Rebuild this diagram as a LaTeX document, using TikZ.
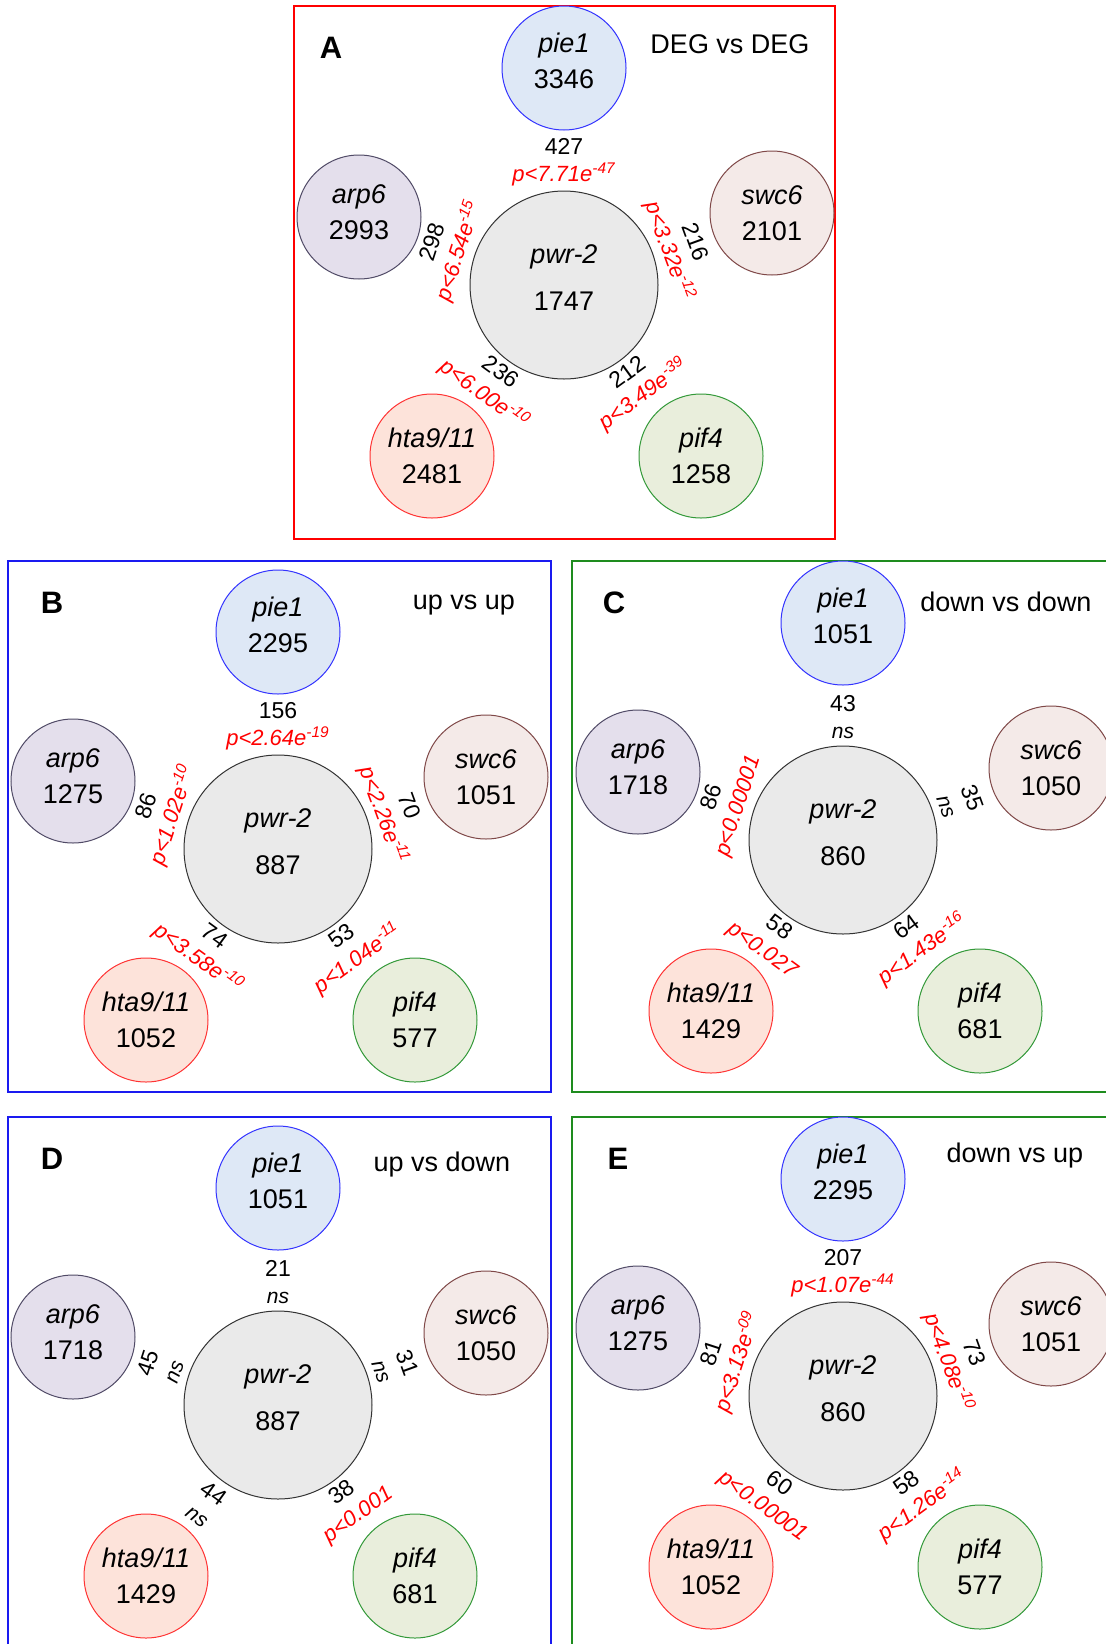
\documentclass[tikz,border=0pt]{standalone}
\usepackage{fontspec}
\setmainfont{Liberation Sans}
\usepackage{xcolor}
\definecolor{piefill}{HTML}{DEE8F6}
\definecolor{pieline}{HTML}{3333FF}
\definecolor{arpfill}{HTML}{E4DFEC}
\definecolor{arpline}{HTML}{504A66}
\definecolor{swcfill}{HTML}{F4EAE8}
\definecolor{swcline}{HTML}{7F4848}
\definecolor{htafill}{HTML}{FDE3DA}
\definecolor{htaline}{HTML}{FF3333}
\definecolor{piffill}{HTML}{E9EEDC}
\definecolor{pifline}{HTML}{339939}
\definecolor{pwrfill}{HTML}{EAEAEA}
\definecolor{pwrline}{HTML}{333333}
\definecolor{boxgreen}{HTML}{1E8C1E}
\definecolor{boxblue}{HTML}{1A1AF0}
\newcommand{\pv}[2]{{\color{red}\fontsize{11}{13.5}\selectfont\textit{p<#1e\textsuperscript{#2}}}}
\newcommand{\pn}[1]{{\color{red}\fontsize{11}{13.5}\selectfont\textit{p<#1}}}
\newcommand{\nsv}{{\fontsize{10.5}{13.5}\selectfont\textit{ns}}}

\begin{document}
\begin{tikzpicture}[x=0.5pt,y=0.5pt]
\tikzstyle{every node}+=[inner sep=0pt]
\tikzstyle{gene}=[circle,minimum size=62pt,line width=0.5pt,align=center,font=\fontsize{13.5}{18}\selectfont]
\tikzstyle{pie}=[gene,draw=pieline,fill=piefill,text depth=7pt]
\tikzstyle{arp}=[gene,draw=arpline,fill=arpfill,text depth=5pt]
\tikzstyle{swc}=[gene,draw=swcline,fill=swcfill]
\tikzstyle{hta}=[gene,draw=htaline,fill=htafill]
\tikzstyle{pif}=[gene,draw=pifline,fill=piffill]
\tikzstyle{hub}=[circle,minimum size=94pt,draw=pwrline,fill=pwrfill,line width=0.5pt,align=center,text depth=7pt,font=\fontsize{13.5}{23.5}\selectfont]
\tikzstyle{ovl}=[align=center,font=\fontsize{11.5}{13.5}\selectfont]
\tikzstyle{panel}=[line width=1.2pt]
\tikzstyle{letter}=[font=\fontsize{15.5}{15.5}\selectfont\bfseries]
\tikzstyle{cmp}=[font=\fontsize{13.5}{16}\selectfont]
\useasboundingbox (0,0) rectangle (1106,-1644);
\clip (0,0) rectangle (1106,-1644);

% A: DEG vs DEG
\draw [panel,draw=red] (294,-6) rectangle (835,-539);
\begin{scope}[shift={(564,-285)}]
\node [hub] (pwrA) at (0,0) {\textit{pwr-2}\\1747};
\node [pie] (pieA) at (0,217) {\textit{pie1}\\3346};
\node [arp] (arpA) at (-205,68) {\textit{arp6}\\2993};
\node [swc] (swcA) at (208,72) {\textit{swc6}\\2101};
\node [hta] (htaA) at (-132,-171) {\textit{hta9/11}\\2481};
\node [pif] (pifA) at (137,-171) {\textit{pif4}\\1258};
\node [ovl] (oPieA) at (90:123) {427\\\pv{7.71}{-47}};
\node [ovl,rotate=72] (oArpA) at (162:123) {298\\\pv{6.54}{-15}};
\node [ovl,rotate=-70] (oSwcA) at (18:123) {216\\\pv{3.32}{-12}};
\node [ovl,rotate=-36] (oHtaA) at (234:123) {236\\\pv{6.00}{-10}};
\node [ovl,rotate=36] (oPifA) at (306:123) {212\\\pv{3.49}{-39}};
\end{scope}
\node [letter] (labA) at (331,-48) {A};
\node [cmp] (cmpA) at (730,-44) {DEG vs DEG};

% B: up vs up
\draw [panel,draw=boxblue] (8,-561) rectangle (551,-1092);
\begin{scope}[shift={(278,-849)}]
\node [hub] (pwrB) at (0,0) {\textit{pwr-2}\\887};
\node [pie] (pieB) at (0,217) {\textit{pie1}\\2295};
\node [arp] (arpB) at (-205,68) {\textit{arp6}\\1275};
\node [swc] (swcB) at (208,72) {\textit{swc6}\\1051};
\node [hta] (htaB) at (-132,-171) {\textit{hta9/11}\\1052};
\node [pif] (pifB) at (137,-171) {\textit{pif4}\\577};
\node [ovl] (oPieB) at (90:123) {156\\\pv{2.64}{-19}};
\node [ovl,rotate=72] (oArpB) at (162:123) {86\\\pv{1.02}{-10}};
\node [ovl,rotate=-70] (oSwcB) at (18:123) {70\\\pv{2.26}{-11}};
\node [ovl,rotate=-36] (oHtaB) at (234:123) {74\\\pv{3.58}{-10}};
\node [ovl,rotate=36] (oPifB) at (306:123) {53\\\pv{1.04}{-11}};
\end{scope}
\node [letter] (labB) at (52,-603) {B};
\node [cmp] (cmpB) at (464,-605) {up vs up};

% C: down vs down
\draw [panel,draw=boxgreen] (572,-561) rectangle (1115,-1092);
\begin{scope}[shift={(843,-840)}]
\node [hub] (pwrC) at (0,0) {\textit{pwr-2}\\860};
\node [pie] (pieC) at (0,217) {\textit{pie1}\\1051};
\node [arp] (arpC) at (-205,68) {\textit{arp6}\\1718};
\node [swc] (swcC) at (208,72) {\textit{swc6}\\1050};
\node [hta] (htaC) at (-132,-171) {\textit{hta9/11}\\1429};
\node [pif] (pifC) at (137,-171) {\textit{pif4}\\681};
\node [ovl] (oPieC) at (90:123) {43\\\nsv};
\node [ovl,rotate=72] (oArpC) at (162:123) {86\\\pn{0.00001}};
\node [ovl,rotate=-70] (oSwcC) at (18:123) {35\\\nsv};
\node [ovl,rotate=-36] (oHtaC) at (234:123) {58\\\pn{0.027}};
\node [ovl,rotate=36] (oPifC) at (306:123) {64\\\pv{1.43}{-16}};
\end{scope}
\node [letter] (labC) at (614,-603) {C};
\node [cmp] (cmpC) at (1006,-602) {down vs down};

% D: up vs down
\draw [panel,draw=boxblue] (8,-1117) rectangle (551,-1660);
\begin{scope}[shift={(278,-1405)}]
\node [hub] (pwrD) at (0,0) {\textit{pwr-2}\\887};
\node [pie] (pieD) at (0,217) {\textit{pie1}\\1051};
\node [arp] (arpD) at (-205,68) {\textit{arp6}\\1718};
\node [swc] (swcD) at (208,72) {\textit{swc6}\\1050};
\node [hta] (htaD) at (-132,-171) {\textit{hta9/11}\\1429};
\node [pif] (pifD) at (137,-171) {\textit{pif4}\\681};
\node [ovl] (oPieD) at (90:123) {21\\\nsv};
\node [ovl,rotate=72] (oArpD) at (162:123) {45\\\nsv};
\node [ovl,rotate=-70] (oSwcD) at (18:123) {31\\\nsv};
\node [ovl,rotate=-36] (oHtaD) at (234:123) {44\\\nsv};
\node [ovl,rotate=36] (oPifD) at (306:123) {38\\\pn{0.001}};
\end{scope}
\node [letter] (labD) at (52,-1159) {D};
\node [cmp] (cmpD) at (442,-1165) {up vs down};

% E: down vs up
\draw [panel,draw=boxgreen] (572,-1117) rectangle (1115,-1660);
\begin{scope}[shift={(843,-1396)}]
\node [hub] (pwrE) at (0,0) {\textit{pwr-2}\\860};
\node [pie] (pieE) at (0,217) {\textit{pie1}\\2295};
\node [arp] (arpE) at (-205,68) {\textit{arp6}\\1275};
\node [swc] (swcE) at (208,72) {\textit{swc6}\\1051};
\node [hta] (htaE) at (-132,-171) {\textit{hta9/11}\\1052};
\node [pif] (pifE) at (137,-171) {\textit{pif4}\\577};
\node [ovl] (oPieE) at (90:123) {207\\\pv{1.07}{-44}};
\node [ovl,rotate=72] (oArpE) at (162:123) {81\\\pv{3.13}{-09}};
\node [ovl,rotate=-70] (oSwcE) at (18:123) {73\\\pv{4.08}{-10}};
\node [ovl,rotate=-36] (oHtaE) at (234:123) {60\\\pn{0.00001}};
\node [ovl,rotate=36] (oPifE) at (306:123) {58\\\pv{1.26}{-14}};
\end{scope}
\node [letter] (labE) at (618,-1159) {E};
\node [cmp] (cmpE) at (1015,-1156) {down vs up};
\end{tikzpicture}
\end{document}
